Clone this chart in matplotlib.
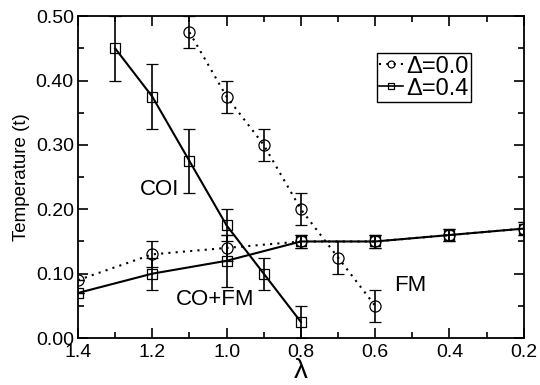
import numpy as np
import matplotlib
matplotlib.use('Agg')
import matplotlib.pyplot as plt
from matplotlib.ticker import MultipleLocator, FormatStrFormatter

plt.rcParams['font.family'] = ['Liberation Sans', 'DejaVu Sans']

# Delta = 0.0 (circles, dotted)
lam_d0_hi = [1.1, 1.0, 0.9, 0.8, 0.7, 0.6]
t_d0_hi = [0.475, 0.375, 0.30, 0.20, 0.125, 0.05]
err_d0_hi = [0.025, 0.025, 0.025, 0.025, 0.025, 0.025]
lam_d0_lo = [1.4, 1.2, 1.0, 0.8, 0.6, 0.4, 0.2]
t_d0_lo = [0.09, 0.13, 0.14, 0.15, 0.15, 0.16, 0.17]
err_d0_lo = [0.0, 0.02, 0.02, 0.01, 0.01, 0.01, 0.01]

# Delta = 0.4 (squares, solid)
lam_d4_hi = [1.3, 1.2, 1.1, 1.0, 0.9, 0.8]
t_d4_hi = [0.45, 0.375, 0.275, 0.175, 0.10, 0.025]
err_d4_hi = [0.05, 0.05, 0.05, 0.025, 0.025, 0.025]
lam_d4_lo = [1.4, 1.2, 1.0, 0.8, 0.6, 0.4, 0.2]
t_d4_lo = [0.07, 0.10, 0.12, 0.15, 0.15, 0.16, 0.17]
err_d4_lo = [0.0, 0.025, 0.04, 0.01, 0.01, 0.01, 0.01]

fig = plt.figure(figsize=(5.4, 3.85), dpi=100)
ax = fig.add_axes([0.1444, 0.122, 0.8256, 0.836])

dots = (0, (1, 2.5))
circ = dict(fmt='o', color='black', mfc='none', ms=8, mew=0.9,
            ls=dots, lw=1.5, capsize=4, elinewidth=1.2, capthick=1.2)
sq = dict(fmt='s', color='black', mfc='none', ms=7, mew=0.9,
          ls='-', lw=1.5, capsize=4, elinewidth=1.2, capthick=1.2)

ax.errorbar(lam_d0_hi, t_d0_hi, yerr=err_d0_hi, **circ)
ax.errorbar(lam_d0_lo, t_d0_lo, yerr=err_d0_lo, **circ)
ax.errorbar(lam_d4_hi, t_d4_hi, yerr=err_d4_hi, **sq)
ax.errorbar(lam_d4_lo, t_d4_lo, yerr=err_d4_lo, **sq)

# legend handles
h0, = ax.plot([], [], 'o', ls=dots, color='black', mfc='none', ms=5, mew=0.9, lw=1.5)
h4, = ax.plot([], [], 's-', color='black', mfc='none', ms=5, mew=0.9, lw=1.2)
leg = ax.legend([h0, h4], ['Δ=0.0', 'Δ=0.4'], loc='upper left',
                bbox_to_anchor=(0.6704, 0.8846), fontsize=17, handlelength=1.0,
                handletextpad=0.15, borderpad=0.1, labelspacing=0.0,
                fancybox=False, edgecolor='black', framealpha=1,
                borderaxespad=0.0)
leg.get_frame().set_linewidth(1.0)

ax.text(1.18, 0.23, 'COI', fontsize=16, ha='center', va='center')
ax.text(1.03, 0.06, 'CO+FM', fontsize=16, ha='center', va='center')
ax.text(0.505, 0.082, 'FM', fontsize=16, ha='center', va='center')

ax.set_xlim(1.4, 0.2)
ax.set_ylim(0.0, 0.5)
ax.xaxis.set_major_locator(MultipleLocator(0.2))
ax.xaxis.set_minor_locator(MultipleLocator(0.1))
ax.yaxis.set_major_locator(MultipleLocator(0.1))
ax.yaxis.set_minor_locator(MultipleLocator(0.05))
ax.xaxis.set_major_formatter(FormatStrFormatter('%.1f'))
ax.yaxis.set_major_formatter(FormatStrFormatter('%.2f'))
ax.tick_params(which='both', direction='in', top=True, right=True, width=1.2)
ax.tick_params(which='major', length=7, labelsize=14)
ax.tick_params(axis='x', which='major', pad=4)
ax.tick_params(axis='y', which='major', pad=3)
ax.tick_params(which='minor', length=4)
for s in ax.spines.values():
    s.set_linewidth(1.3)

ax.set_xlabel('λ', fontsize=20, labelpad=-2)
ax.set_ylabel('Temperature (t)', fontsize=13.5, labelpad=4)

fig.savefig('out.png', dpi=100)
